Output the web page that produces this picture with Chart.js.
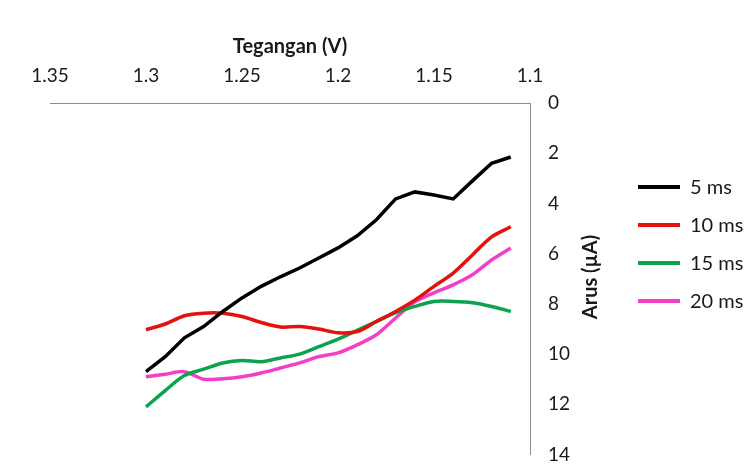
<!DOCTYPE html>
<html>
<head>
<meta charset="utf-8">
<script src="https://cdn.jsdelivr.net/npm/chart.js@4"></script>
<style>
  html, body { margin: 0; padding: 0; background: #fff; }
  #wrap { width: 753px; height: 466px; }
</style>
</head>
<body>
<div id="wrap"><canvas id="arusChart" width="753" height="466"></canvas></div>
<script>
  // Tegangan (V) shared by all series
  const voltages = [1.30, 1.29, 1.28, 1.27, 1.26, 1.25, 1.24, 1.23, 1.22, 1.21,
                    1.20, 1.19, 1.18, 1.17, 1.16, 1.15, 1.14, 1.13, 1.12, 1.11];

  // Arus (uA) per pulse width
  const arus5ms  = [10.7, 10.1, 9.35, 8.9, 8.3, 7.76, 7.3, 6.92, 6.57, 6.17,
                    5.77, 5.29, 4.65, 3.82, 3.54, 3.66, 3.82, 3.1, 2.4, 2.15];
  const arus10ms = [9.03, 8.8, 8.47, 8.37, 8.37, 8.5, 8.74, 8.92, 8.9, 9.0,
                    9.15, 9.1, 8.7, 8.3, 7.85, 7.3, 6.77, 6.05, 5.33, 4.93];
  const arus15ms = [12.1, 11.45, 10.85, 10.6, 10.35, 10.25, 10.3, 10.15, 10.0, 9.7,
                    9.4, 9.05, 8.7, 8.35, 8.1, 7.9, 7.9, 7.95, 8.1, 8.3];
  const arus20ms = [10.9, 10.8, 10.7, 11.0, 10.98, 10.9, 10.75, 10.55, 10.35, 10.1,
                    9.95, 9.63, 9.23, 8.56, 7.92, 7.56, 7.24, 6.84, 6.25, 5.77];

  const seriesLabels = ["5 ms", "10 ms", "15 ms", "20 ms"];
  const xTicks = [1.35, 1.3, 1.25, 1.2, 1.15, 1.1];
  const yTicks = [0, 2, 4, 6, 8, 10, 12, 14];

  const colors = ["#000000", "#e3120f", "#0ca24f", "#f33fc8"];
  const FONT = "Lato, 'Open Sans', sans-serif";
  const TEXT = "#1a1a1a";

  // where the plot box and legend sit in the reference picture
  const target = { right: 530, bottom: 457, legendX: 638 };
  let yWidth = 96;

  function toPoints(values) {
    return values.map((v, i) => ({ x: voltages[i], y: v }));
  }

  const seriesValues = [arus5ms, arus10ms, arus15ms, arus20ms];

  const yTitlePlugin = {
    id: "yTitle",
    afterDraw(chart) {
      const ctx = chart.ctx;
      ctx.save();
      ctx.translate(591, 277);
      ctx.rotate(-Math.PI / 2);
      ctx.font = "bold 20px " + FONT;
      ctx.fillStyle = TEXT;
      ctx.textAlign = "center";
      ctx.textBaseline = "middle";
      ctx.fillText("Arus (\u00B5A)", 0, 0);
      ctx.restore();
    },
  };

  const ctx = document.getElementById("arusChart").getContext("2d");
  const chart = new Chart(ctx, {
    type: "line",
    data: {
      datasets: seriesValues.map((vals, i) => ({
        label: seriesLabels[i],
        data: toPoints(vals),
        borderColor: colors[i],
        backgroundColor: colors[i],
        borderWidth: 3.5,
        pointRadius: 0,
        tension: i === 0 ? 0 : 0.3,
        fill: false,
      })),
    },
    options: {
      responsive: false,
      animation: false,
      layout: { padding: { top: 24, bottom: 9, left: 50, right: 0 } },
      plugins: {
        tooltip: { enabled: false },
        legend: {
          position: "right",
          labels: {
            boxWidth: 42,
            boxHeight: 4,
            padding: 18,
            color: TEXT,
            font: { family: FONT, size: 20 },
            generateLabels(chart) {
              const items = Chart.defaults.plugins.legend.labels.generateLabels(chart);
              items.forEach((it) => {
                it.lineWidth = 0;
                it.fillStyle = it.strokeStyle;
              });
              return items;
            },
          },
        },
      },
      scales: {
        x: {
          type: "linear",
          position: "top",
          reverse: true,
          min: 1.1,
          max: 1.35,
          grid: { display: false, drawTicks: false },
          border: { display: true, color: "#8c8c8c", width: 1 },
          ticks: {
            padding: 16,
            color: TEXT,
            font: { family: FONT, size: 19 },
            callback: (v) => String(Number(v.toFixed(2))),
          },
          afterBuildTicks(scale) {
            scale.ticks = xTicks.map((v) => ({ value: v }));
          },
          title: {
            display: true,
            text: "Tegangan (V)",
            color: TEXT,
            font: { family: FONT, size: 20, weight: "bold" },
            padding: { top: 11, bottom: 0 },
          },
          afterFit(scale) {
            scale.height = 79;
          },
        },
        y: {
          type: "linear",
          position: "right",
          reverse: true,
          min: 0,
          max: 14,
          // hidden grid, tick length only used as the gap before the labels
          grid: { display: false, drawTicks: true, tickLength: 18 },
          border: { display: true, color: "#8c8c8c", width: 1 },
          ticks: {
            padding: 0,
            color: TEXT,
            font: { family: FONT, size: 19 },
          },
          afterBuildTicks(scale) {
            scale.ticks = yTicks.map((v) => ({ value: v }));
          },
          afterFit(scale) {
            scale.width = yWidth;
          },
        },
      },
    },
    plugins: [yTitlePlugin],
  });

  // nudge padding until the plot box lands where the reference has it
  for (let k = 0; k < 5; k++) {
    const area = chart.chartArea;
    const pad = chart.options.layout.padding;
    const hit = chart.legend.legendHitBoxes[0];
    const dLeg = hit ? hit.left - target.legendX : 0;
    const dB = area.bottom - target.bottom;
    if (Math.abs(dLeg) < 0.5 && Math.abs(dB) < 0.5 && Math.abs(area.right - target.right) < 0.5) break;
    pad.right += dLeg;
    if (pad.bottom + dB >= 0) pad.bottom += dB;
    yWidth += (area.right - dLeg) - target.right;
    chart.update();
  }
</script>
</body>
</html>
